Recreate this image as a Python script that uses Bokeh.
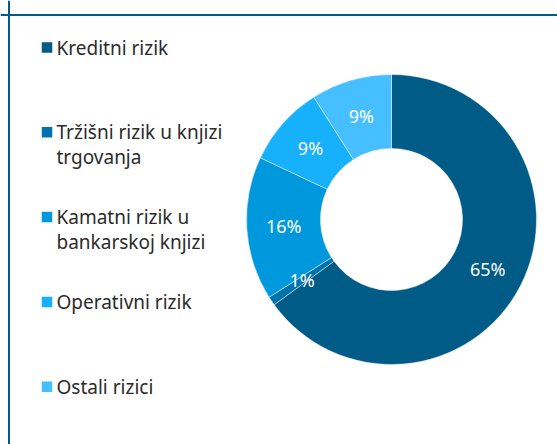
import math
from bokeh.plotting import figure
from bokeh.models import Range1d, Span
from bokeh.core.properties import value
from bokeh.embed import file_html
from bokeh.resources import INLINE

categories = ["Kreditni rizik", "Tržišni rizik u knjizi\ntrgovanja", "Kamatni rizik u\nbankarskoj knjizi",
              "Operativni rizik", "Ostali rizici"]
values = [65, 1, 16, 9, 9]
colors = ["#005b86", "#0073ad", "#0098dd", "#17b0fa", "#45bfff"]
pct_labels = ["65%", "1%", "16%", "9%", "9%"]

W, H = 557, 444
p = figure(width=W, height=H, output_backend="svg", toolbar_location=None,
           x_range=Range1d(0, W), y_range=Range1d(0, H),
           min_border=0, min_border_left=0, min_border_right=0,
           min_border_top=0, min_border_bottom=0)
p.axis.visible = False
p.grid.visible = False
p.outline_line_color = None
p.background_fill_color = "white"
p.border_fill_color = "white"

# frame lines (top and left)
p.add_layout(Span(location=H - 14.5, dimension="width", line_color="#005b86", line_width=2))
p.add_layout(Span(location=8.5, dimension="height", line_color="#005b86", line_width=2))

# donut
cx, cy = 391, H - 219
r_in, r_out = 71, 145
total = sum(values)
starts, ends, mids = [], [], []
acc = 0
for v in values:
    a0 = math.pi / 2 - 2 * math.pi * acc / total
    acc += v
    a1 = math.pi / 2 - 2 * math.pi * acc / total
    starts.append(a0)
    ends.append(a1)
    mids.append((a0 + a1) / 2)

p.annular_wedge(x=[cx] * len(values), y=[cy] * len(values), inner_radius=r_in, outer_radius=r_out,
                start_angle=starts, end_angle=ends, direction="clock",
                fill_color=colors, line_color="white", line_alpha=0.6, line_width=0.75)

r_mid = (r_in + r_out) / 2
lx = [cx + r_mid * math.cos(a) for a in mids]
ly = [cy + r_mid * math.sin(a) for a in mids]
p.text(x=lx, y=ly, text=pct_labels, text_color="white", text_font=value("Noto Sans"),
       text_font_size="18px", text_align="center", text_baseline="middle")

# legend
leg_x0 = 46.5
leg_y0 = H - 47
step = 84.8
line_gap = 25
sq_x, sq_y, sq_c = [], [], []
tx, ty, tt = [], [], []
for i, (cat, col) in enumerate(zip(categories, colors)):
    y = leg_y0 - i * step
    sq_x.append(leg_x0)
    sq_y.append(y)
    sq_c.append(col)
    for j, line in enumerate(cat.split("\n")):
        tx.append(leg_x0 + 9.5)
        ty.append(y - j * line_gap)
        tt.append(line)
p.rect(x=sq_x, y=sq_y, width=10.5, height=10.5, width_units="screen", height_units="screen",
       fill_color=sq_c, line_color=None)
p.text(x=tx, y=ty, text=tt, text_color="#2b2b2b", text_font=value("Noto Sans"),
       text_font_size="19px", text_align="left", text_baseline="middle")

open("out.html", "w").write(file_html(p, INLINE))
